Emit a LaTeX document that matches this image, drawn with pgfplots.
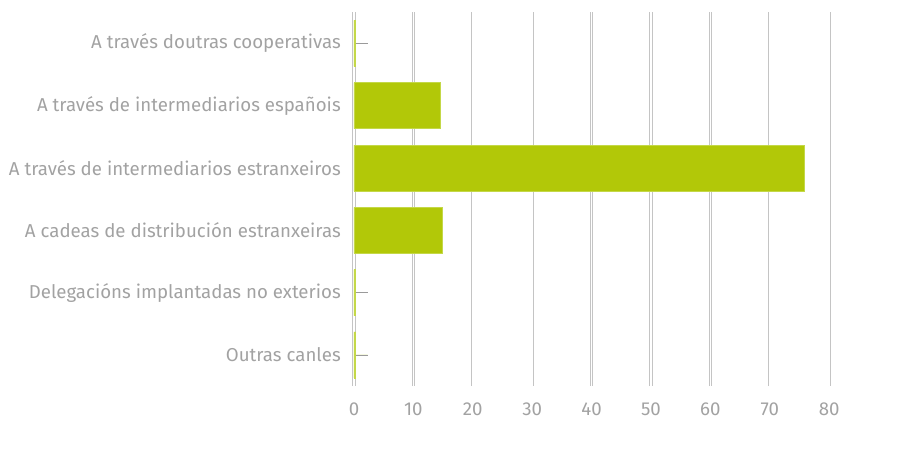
\documentclass[border=0pt]{standalone}
\usepackage{pgfplots}
\pgfplotsset{compat=1.18}
\usepackage{fontspec}
\setmainfont{Fira Sans}
\definecolor{txtgray}{HTML}{A2A2A2}
\definecolor{gridgray}{HTML}{C4C4C4}
\definecolor{bargreen}{HTML}{B2C808}
\definecolor{barborder}{HTML}{C4D848}
\definecolor{leader}{HTML}{9A9A9A}
\begin{document}
\begin{tikzpicture}
\begin{axis}[
  name=ax,
  scale only axis,
  width=408pt, height=280.35pt,
  xmin=0, xmax=91.58,
  ymin=-0.5, ymax=5.5,
  clip=false,
  xtick={0,10,20,30,40,50,60,70,80},
  ytick={0,1,2,3,4,5},
  yticklabels={Outras canles,Delegacións implantadas no exterios,A cadeas de distribución estranxeiras,A través de intermediarios estranxeiros,A través de intermediarios españois,A través doutras cooperativas},
  xmajorgrids,
  major grid style={draw=gridgray, line width=0.6pt, double=white, double distance=1.2pt},
  axis line style={draw=none},
  tick style={draw=none},
  /pgf/number format/assume math mode=true,
  every tick label/.append style={font=\fontsize{14}{16}\selectfont, text=txtgray},
  yticklabel style={anchor=east, inner sep=0pt, xshift=-5.5pt},
  xticklabel style={anchor=north, inner sep=0pt, yshift=-12.5pt},
  xbar, bar width=34.5pt,
]
\addplot[
  draw=barborder, line width=0.6pt,
  fill=bargreen,
  error bars/.cd, x dir=plus, x explicit,
  error bar style={draw=leader, line width=0.6pt},
  error mark=none,
] coordinates {
  (0.3,0) +- (2,0)
  (0.3,1) +- (2,0)
  (14.9,2) +- (0,0)
  (75.8,3) +- (0,0)
  (14.6,4) +- (0,0)
  (0.3,5) +- (2,0)
};
\end{axis}
\pgfresetboundingbox
\path ([shift={(-265.5pt,-48.75pt)}]ax.south west) rectangle ([shift={(0pt,9.2pt)}]ax.north east);
\end{tikzpicture}
\end{document}
